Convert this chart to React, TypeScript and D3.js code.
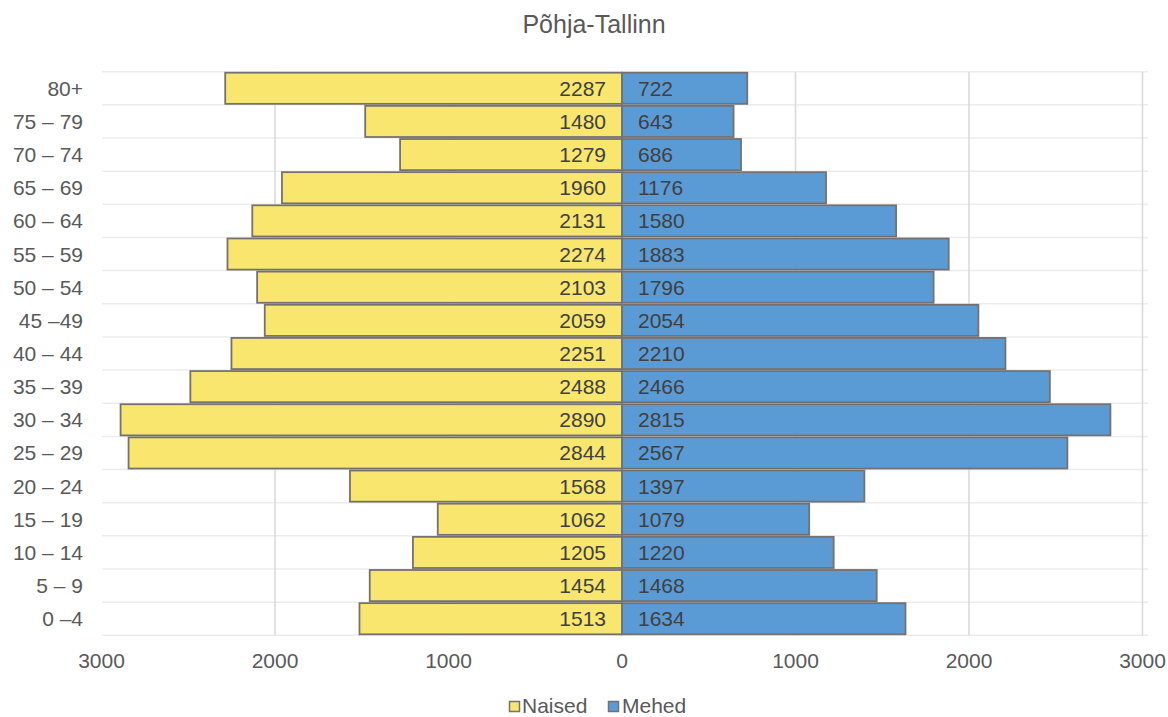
import React from "react";
import { scaleLinear, scaleBand } from "d3";

// age groups, top to bottom as shown
const ageGroups = [
  "80+", "75 – 79", "70 – 74", "65 – 69", "60 – 64", "55 – 59", "50 – 54",
  "45 –49", "40 – 44", "35 – 39", "30 – 34", "25 – 29", "20 – 24",
  "15 – 19", "10 – 14", "5 – 9", "0 –4",
];
const naised = [2287, 1480, 1279, 1960, 2131, 2274, 2103, 2059, 2251, 2488, 2890, 2844, 1568, 1062, 1205, 1454, 1513];
const mehed = [722, 643, 686, 1176, 1580, 1883, 1796, 2054, 2210, 2466, 2815, 2567, 1397, 1079, 1220, 1468, 1634];
const ticks = [0, 1000, 2000, 3000];
const title = "Põhja-Tallinn";

const W = 1168;
const H = 717;
const font = "'Liberation Sans', Arial, sans-serif";

const App = () => {
  const zeroX = 622;
  const xRight = scaleLinear().domain([0, 3000]).range([zeroX, 1142.5]);
  const xLeft = scaleLinear().domain([0, 3000]).range([zeroX, 101.5]);
  const y = scaleBand().domain(ageGroups).range([71.7, 635.3]).paddingInner(0.06).paddingOuter(0.03);
  const step = y.step();
  const top = 71.7;

  return (
    <svg width={W} height={H} style={{ position: "absolute", left: 0, top: 0, background: "#fff" }} fontFamily={font}>
      <text x={594} y={33} textAnchor="middle" fontSize={25} fill="#595959">{title}</text>

      {/* horizontal grid at band boundaries */}
      {ageGroups.map((d, i) => (
        <line key={"h" + i} x1={102} x2={1148} y1={top + i * step} y2={top + i * step} stroke="#ececec" strokeWidth={1.5} />
      ))}
      <line x1={102} x2={1148} y1={top + ageGroups.length * step} y2={top + ageGroups.length * step} stroke="#ececec" strokeWidth={1.5} />

      {/* vertical grid */}
      {ticks.filter((t) => t > 0 && t < 3000).map((t) => (
        <line key={"vl" + t} x1={xLeft(t)} x2={xLeft(t)} y1={top} y2={635.3} stroke="#d9d9d9" strokeWidth={1.5} />
      ))}
      {ticks.filter((t) => t > 0).map((t) => (
        <line key={"vr" + t} x1={xRight(t)} x2={xRight(t)} y1={top} y2={635.3} stroke="#d9d9d9" strokeWidth={1.5} />
      ))}

      {/* bars */}
      {ageGroups.map((d, i) => (
        <g key={"b" + d}>
          <rect x={xLeft(naised[i])} y={y(d)} width={zeroX - xLeft(naised[i])} height={y.bandwidth()}
            fill="#f9e66f" stroke="#767171" strokeWidth={1.8} />
          <rect x={zeroX} y={y(d)} width={xRight(mehed[i]) - zeroX} height={y.bandwidth()}
            fill="#5b9bd5" stroke="#767171" strokeWidth={1.8} />
          <text x={606} y={y(d)! + y.bandwidth() / 2} textAnchor="end" dominantBaseline="central"
            fontSize={21} fill="#404040">{naised[i]}</text>
          <text x={638} y={y(d)! + y.bandwidth() / 2} textAnchor="start" dominantBaseline="central"
            fontSize={21} fill="#404040">{mehed[i]}</text>
          <text x={83} y={y(d)! + y.bandwidth() / 2} textAnchor="end" dominantBaseline="central"
            fontSize={21} fill="#595959">{d}</text>
        </g>
      ))}

      {/* x tick labels */}
      {ticks.map((t) => (
        <text key={"tl" + t} x={xLeft(t)} y={668} textAnchor="middle" fontSize={21} fill="#595959">{t}</text>
      ))}
      {ticks.filter((t) => t > 0).map((t) => (
        <text key={"tr" + t} x={xRight(t)} y={668} textAnchor="middle" fontSize={21} fill="#595959">{t}</text>
      ))}

      {/* legend */}
      <rect x={509.5} y={701.5} width={10} height={10} fill="#f9e66f" stroke="#767171" strokeWidth={1.5} />
      <text x={522} y={713} fontSize={21} fill="#595959">Naised</text>
      <rect x={608.5} y={701.5} width={10} height={10} fill="#5b9bd5" stroke="#767171" strokeWidth={1.5} />
      <text x={622} y={713} fontSize={21} fill="#595959">Mehed</text>
    </svg>
  );
};

export default App;
